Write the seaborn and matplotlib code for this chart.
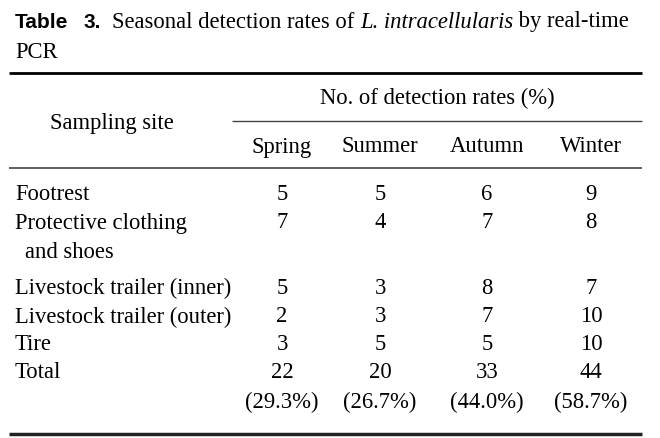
import matplotlib
matplotlib.use("Agg")
import matplotlib.pyplot as plt
import seaborn as sns

# table content
sites = ["Footrest", "Protective clothing", "Livestock trailer (inner)",
         "Livestock trailer (outer)", "Tire", "Total"]
seasons = ["Spring", "Summer", "Autumn", "Winter"]
footrest = [5, 5, 6, 9]
protective = [7, 4, 7, 8]
trailer_inner = [5, 3, 8, 7]
trailer_outer = [2, 3, 7, 10]
tire = [3, 5, 5, 10]
total = [22, 20, 33, 44]
total_pct = ["(29.3%)", "(26.7%)", "(44.0%)", "(58.7%)"]

sns.set_theme(style="white")
plt.rcParams["font.family"] = ["Liberation Serif", "DejaVu Serif"]

W, H = 660, 438
fig = plt.figure(figsize=(W / 100, H / 100), dpi=100)
ax = fig.add_axes([0, 0, 1, 1])
ax.set_xlim(0, W)
ax.set_ylim(H, 0)
ax.axis("off")

FS = 16.3
renderer = fig.canvas.get_renderer()

# title: bold sans label, then the serif caption
ax.text(15, 22, "Table", va="center", ha="left", family="Liberation Sans",
        weight="bold", fontsize=15, color="black")
ax.text(84, 22, "3.", va="center", ha="left", family="Liberation Sans",
        weight="bold", fontsize=15, color="black")
pieces = [("Seasonal detection rates of ", dict(fontsize=FS)),
          ("L. intracellularis", dict(fontsize=FS, style="italic")),
          (" by real-time", dict(fontsize=FS))]
x = 112
for t, kw in pieces:
    a = ax.text(x, 22, t, va="center", ha="left", color="black", **kw)
    x += a.get_window_extent(renderer).width
ax.text(15, 52, "PCR", va="center", ha="left", fontsize=FS, color="black")

# rules
ax.hlines(73, 9, 642, color="black", lw=2)
ax.hlines(121, 232, 642, color="#444444", lw=1)
ax.hlines(168, 9, 642, color="#555555", lw=1.3)
ax.hlines(434, 9, 642, color="#222222", lw=2.5)

# header
col_x = [282, 380, 487, 591]
ax.text(437, 98, "No. of detection rates (%)", ha="center", va="center", fontsize=FS, color="black")
ax.text(112, 124, "Sampling site", ha="center", va="center", fontsize=FS, color="black")
for cx, s in zip(col_x, seasons):
    ax.text(cx, 147, s, ha="center", va="center", fontsize=FS, color="black")

# body
rows = [footrest, protective, trailer_inner, trailer_outer, tire, total]
row_y = [194, 223, 288, 317, 345, 373]
for y, name, vals in zip(row_y, sites, rows):
    ax.text(15, y, name, ha="left", va="center", fontsize=FS, color="black")
    for cx, v in zip(col_x, vals):
        ax.text(cx, y, str(v), ha="center", va="center", fontsize=FS, color="black")
ax.text(25, 252, "and shoes", ha="left", va="center", fontsize=FS, color="black")
for cx, p in zip(col_x, total_pct):
    ax.text(cx, 402, p, ha="center", va="center", fontsize=FS, color="black")

fig.savefig("out.png", dpi=100)
